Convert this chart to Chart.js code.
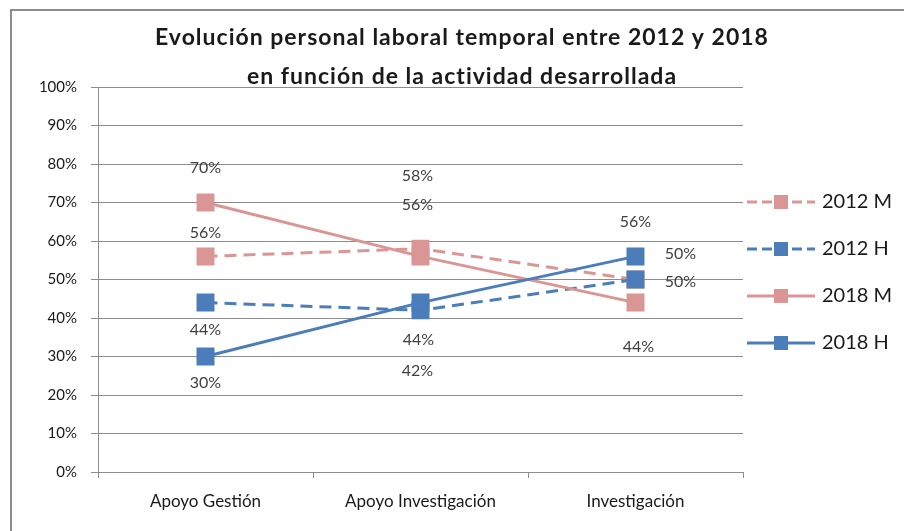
<!DOCTYPE html>
<html>
<head>
<meta charset="utf-8">
<script src="https://cdn.jsdelivr.net/npm/chart.js@4"></script>
<style>
  html, body { margin: 0; padding: 0; background: #fff; }
  #wrap { position: relative; width: 904px; height: 531px; overflow: hidden; }
  #frame { position: absolute; left: 10px; top: 9px; width: 1000px; height: 1000px; border: 2px solid #8c8c8c; }
  #c { position: absolute; left: 0; top: 0; }
</style>
</head>
<body>
<div id="wrap">
  <div id="frame"></div>
  <canvas id="c" width="904" height="531"></canvas>
</div>
<script>
(function () {
  "use strict";

  /* ── Data ─────────────────────────────────────────────────── */
  var categories = ["Apoyo Gestión", "Apoyo Investigación", "Investigación"];
  var seriesNames = ["2012 M", "2012 H", "2018 M", "2018 H"];
  var m2012 = [56, 58, 50];
  var h2012 = [44, 42, 50];
  var m2018 = [70, 56, 44];
  var h2018 = [30, 44, 56];
  var titleLines = ["Evolución personal laboral temporal entre 2012 y 2018",
                    "en función de la actividad desarrollada"];

  var PINK = "#DA9694";
  var BLUE = "#4A7DBA";
  var FONT = "Lato, 'Open Sans', sans-serif";

  function series(label, data, color, dashed, order, offsets) {
    return {
      label: label,
      data: data,
      borderColor: color,
      backgroundColor: color,
      borderWidth: 3,
      borderDash: dashed ? [12, 7] : [],
      pointStyle: "rect",
      pointRadius: 12.7,
      pointHoverRadius: 12.7,
      pointBorderWidth: 0,
      pointBackgroundColor: color,
      tension: 0,
      order: order,
      labelOffsets: offsets
    };
  }

  /* ── Title, data labels and legend, drawn on the canvas ───── */
  var decorations = {
    id: "decorations",
    afterDatasetsDraw: function (chart) {
      var ctx = chart.ctx;
      ctx.save();

      // title
      ctx.fillStyle = "#1a1a1a";
      ctx.font = "bold 23px " + FONT;
      ctx.letterSpacing = "1px";
      ctx.textAlign = "center";
      ctx.textBaseline = "middle";
      ctx.fillText(titleLines[0], 462, 38);
      ctx.fillText(titleLines[1], 462, 77);
      ctx.letterSpacing = "0px";

      // data labels
      ctx.font = "16px " + FONT;
      ctx.fillStyle = "#404040";
      chart.data.datasets.forEach(function (ds, di) {
        var meta = chart.getDatasetMeta(di);
        meta.data.forEach(function (pt, i) {
          var off = ds.labelOffsets[i];
          ctx.fillText(ds.data[i] + "%", pt.x + off[0], pt.y + off[1]);
        });
      });

      // legend
      var rows = [202, 249, 296, 343];
      chart.data.datasets.forEach(function (ds, di) {
        var y = rows[di];
        ctx.strokeStyle = ds.borderColor;
        ctx.lineWidth = 3;
        ctx.setLineDash(ds.borderDash.length ? [10, 5] : []);
        ctx.beginPath();
        ctx.moveTo(747, y);
        ctx.lineTo(815, y);
        ctx.stroke();
        ctx.setLineDash([]);
        ctx.fillStyle = ds.borderColor;
        ctx.fillRect(781 - 7, y - 7, 14, 14);
        ctx.fillStyle = "#1a1a1a";
        ctx.font = "20px " + FONT;
        ctx.textAlign = "left";
        ctx.fillText(ds.label, 822, y);
      });

      ctx.restore();
    }
  };

  var ctx = document.getElementById("c");
  new Chart(ctx, {
    type: "line",
    data: {
      labels: categories,
      datasets: [
        series(seriesNames[0], m2012, PINK, true, 4, [[0, -24], [-3, -73], [45, 2]]),
        series(seriesNames[1], h2012, BLUE, true, 3, [[0, 27], [-3, 61], [45, -26]]),
        series(seriesNames[2], m2018, PINK, false, 2, [[0, -35], [-3, -52], [3, 44]]),
        series(seriesNames[3], h2018, BLUE, false, 1, [[0, 26], [-2, 37], [0, -35]])
      ]
    },
    options: {
      responsive: false,
      animation: false,
      layout: { padding: { left: 0, top: 87, right: 161, bottom: 0 } },
      plugins: {
        legend: { display: false },
        title: { display: false },
        tooltip: { enabled: false }
      },
      scales: {
        x: {
          offset: true,
          afterFit: function (s) { s.height = 59; },
          grid: {
            display: true,
            offset: true,
            drawOnChartArea: false,
            drawTicks: true,
            tickLength: 6,
            color: "#8c8c8c"
          },
          border: { display: true, color: "#8c8c8c", width: 1 },
          ticks: {
            padding: 13,
            color: "#1a1a1a",
            font: { family: FONT, size: 17 }
          }
        },
        y: {
          min: 0,
          max: 100,
          afterFit: function (s) { s.width = 98; },
          grid: { color: "#8c8c8c", tickLength: 7 },
          border: { display: true, color: "#8c8c8c", width: 1 },
          ticks: {
            stepSize: 10,
            padding: 14,
            color: "#1a1a1a",
            font: { family: FONT, size: 15 },
            callback: function (v) { return v + "%"; }
          }
        }
      }
    },
    plugins: [decorations]
  });
})();
</script>
</body>
</html>
